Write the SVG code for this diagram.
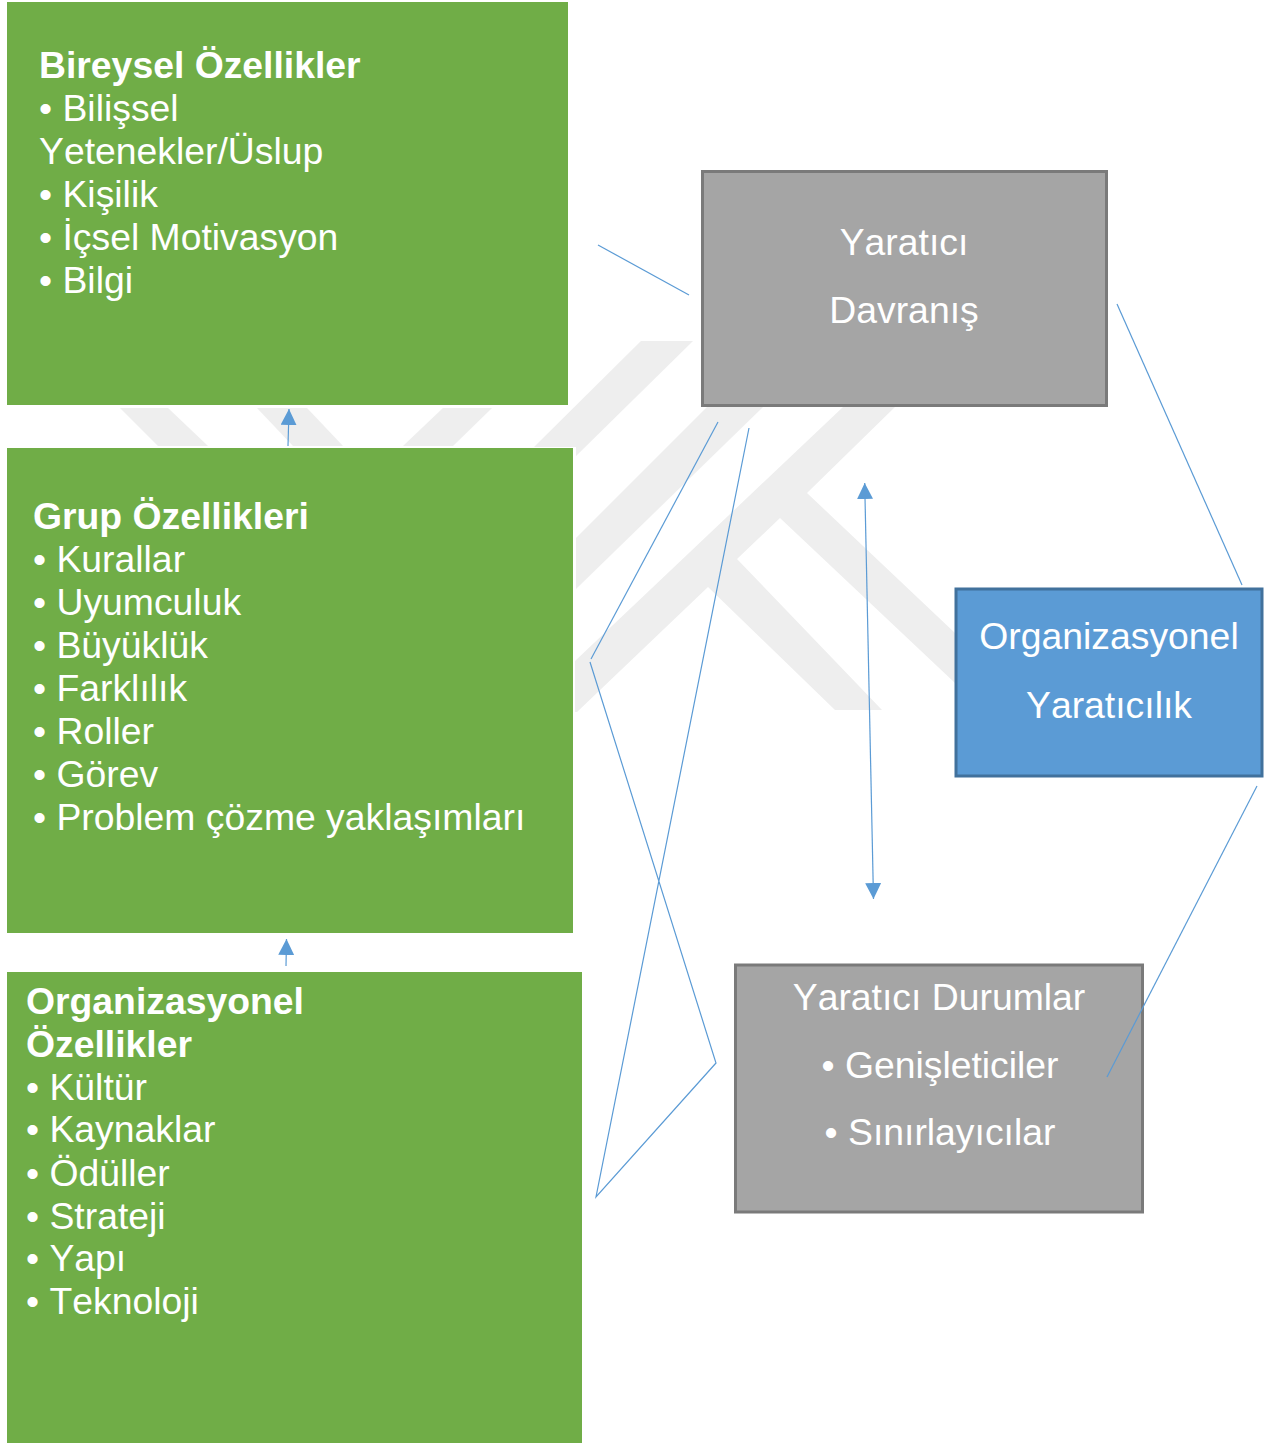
<svg xmlns="http://www.w3.org/2000/svg" width="1272" height="1443" viewBox="0 0 1272 1443">
<style>
text{font-family:"Liberation Sans",Arial,sans-serif;font-size:37.33px;fill:#fff;font-kerning:none}
.b{font-weight:bold}
.c{text-anchor:middle}
.g{fill:#70ad47}
.w{fill:#eeeeee}
.l{stroke:#5b9bd5;stroke-width:1.2;fill:none}
</style>
<defs>
<marker id="a" viewBox="0 0 16 16" refX="16" refY="8" markerWidth="16" markerHeight="16" markerUnits="userSpaceOnUse" orient="auto-start-reverse"><path d="M0 0L16 8L0 16z" fill="#5b9bd5"/></marker>
</defs>
<rect width="1272" height="1443" fill="#fff"/>
<g id="watermark">
<path class="w" d="M641 341H693L576 456V447H534z"/>
<path class="w" d="M707 407H763L576 589V538z"/>
<path class="w" d="M843 407H895L807 493L955 633V683L780 518L737 559L882 710H835L708 587L577 712H575V661z"/>
<path class="w" d="M120 408H168L208 446H158z"/>
<path class="w" d="M257 408H307L343 446H293z"/>
<path class="w" d="M403 446L443 408H492L453 446z"/>
</g>
<g id="bireysel"><rect class="g" x="7" y="2" width="561" height="403"/>
<text x="39" y="78" class="b">Bireysel Özellikler</text>
<text x="39" y="121">• Bilişsel</text>
<text x="39" y="164">Yetenekler/Üslup</text>
<text x="39" y="207">• Kişilik</text>
<text x="39" y="250">• İçsel Motivasyon</text>
<text x="39" y="293">• Bilgi</text></g>
<g id="grup"><rect class="g" x="7" y="448" width="566" height="485"/>
<text x="33" y="529" class="b">Grup Özellikleri</text>
<text x="33" y="572">• Kurallar</text>
<text x="33" y="615">• Uyumculuk</text>
<text x="33" y="658">• Büyüklük</text>
<text x="33" y="701">• Farklılık</text>
<text x="33" y="744">• Roller</text>
<text x="33" y="787">• Görev</text>
<text x="33" y="830">• Problem çözme yaklaşımları</text></g>
<g id="organizasyonel"><rect class="g" x="7" y="972" width="575" height="471"/>
<text x="26" y="1014" class="b">Organizasyonel</text>
<text x="26" y="1057" class="b">Özellikler</text>
<text x="26" y="1100">• Kültür</text>
<text x="26" y="1142">• Kaynaklar</text>
<text x="26" y="1186">• Ödüller</text>
<text x="26" y="1229">• Strateji</text>
<text x="26" y="1271">• Yapı</text>
<text x="26" y="1314">• Teknoloji</text></g>
<g id="yaratici-davranis"><rect x="702.500" y="171.500" width="404" height="234" fill="#a5a5a5" stroke="#7a7a7a" stroke-width="3"/>
<text x="904" y="255" class="c">Yaratıcı</text>
<text x="904" y="323" class="c">Davranış</text></g>
<g id="organizasyonel-yaraticilik"><rect x="956" y="589" width="306" height="187" fill="#5b9bd5" stroke="#41719c" stroke-width="3"/>
<text x="1109" y="649" class="c">Organizasyonel</text>
<text x="1109" y="718" class="c">Yaratıcılık</text></g>
<g id="yaratici-durumlar"><rect x="735.500" y="965" width="407" height="247" fill="#a5a5a5" stroke="#7a7a7a" stroke-width="3"/>
<text x="939" y="1010" class="c">Yaratıcı Durumlar</text>
<text x="940" y="1078" class="c">• Genişleticiler</text>
<text x="940" y="1145" class="c">• Sınırlayıcılar</text></g>
<g id="connectors">
<path class="l" d="M598 245L689 295"/>
<path class="l" d="M1117 304L1242 585"/>
<path class="l" d="M1257 786L1107 1077"/>
<path class="l" d="M718 422L591 659"/>
<path class="l" d="M590 662L716 1063L596 1197L749 428"/>
<path class="l" d="M288 446L289 409" marker-end="url(#a)"/>
<path class="l" d="M286 966L286.500 939" marker-end="url(#a)"/>
<path class="l" d="M864.700 483L873.500 899" marker-start="url(#a)" marker-end="url(#a)"/>
</g>
</svg>
